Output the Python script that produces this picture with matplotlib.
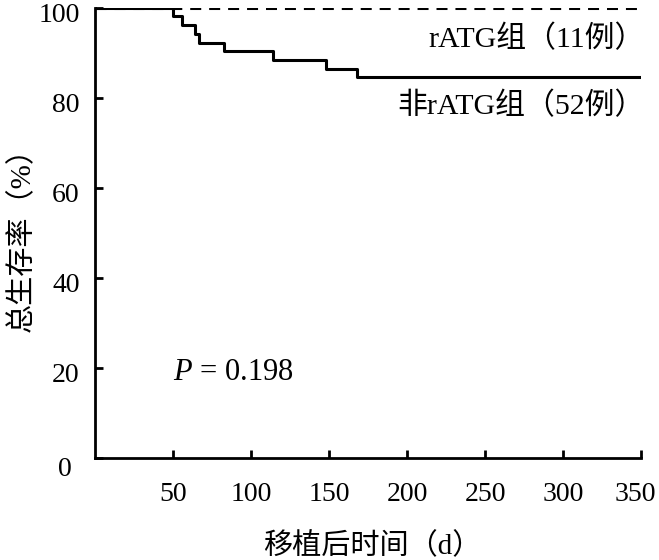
import matplotlib
matplotlib.use('Agg')
import matplotlib.pyplot as plt
import matplotlib.transforms as mtransforms

plt.rcParams['font.family'] = ['Liberation Serif', 'Noto Sans CJK SC']
plt.rcParams['mathtext.fontset'] = 'custom'
plt.rcParams['mathtext.it'] = 'Liberation Serif:italic'
plt.rcParams['mathtext.rm'] = 'Liberation Serif'

# rATG group (11 cases): no deaths
ratg_t = [0, 350]
ratg_s = [100, 100]

# non-rATG group (52 cases): event times (d) and survival after each step (%)
non_t = [0, 50, 56, 64, 67, 83, 114, 148, 168, 350]
non_s = [100, 98.1, 96.2, 94.2, 92.3, 90.4, 88.5, 86.5, 84.6, 84.6]

xticks = [50, 100, 150, 200, 250, 300, 350]
yticks = [0, 20, 40, 60, 80, 100]

fig = plt.figure(figsize=(6.59, 5.6), dpi=100)
ax = fig.add_axes([0.144, 0.182, 0.829, 0.804])

ax.step(non_t, non_s, where='post', color='black', lw=2.2)
ax.plot(ratg_t, ratg_s, color='black', lw=2.2, ls=(0, (3.6, 2.6)))

ax.set_xlim(0, 350)
ax.set_ylim(0, 100)
ax.spines['top'].set_visible(False)
ax.spines['right'].set_visible(False)
ax.spines['left'].set_linewidth(2)
ax.spines['bottom'].set_linewidth(2)
ax.spines['left'].set_zorder(5)

ax.set_xticks(xticks)
ax.set_yticks(yticks)
ax.set_yticklabels(['' if v == 0 else str(v) for v in yticks])
ax.tick_params(axis='both', direction='in', length=6, width=2, labelsize=20)
ax.tick_params(axis='x', pad=17)
ax.tick_params(axis='y', pad=11)

# small nudges so the labels sit where they do in the figure
down = mtransforms.ScaledTranslation(0, -3 / 72, fig.dpi_scale_trans)
for lab in ax.get_yticklabels():
    lab.set_transform(lab.get_transform() + down)
left = mtransforms.ScaledTranslation(-4 / 72, 0, fig.dpi_scale_trans)
last = ax.get_xticklabels()[-1]
last.set_transform(last.get_transform() + left)

ax.annotate('0', xy=(0, 0), xycoords='axes fraction', xytext=(-17, -8),
            textcoords='offset points', ha='right', va='center', fontsize=20)

ax.set_xlabel('移植后时间（d）', fontsize=21)
ax.set_ylabel('总生存率（%）', fontsize=21)
ax.xaxis.set_label_coords(0.507, -0.165)
ax.yaxis.set_label_coords(-0.108, 0.5)

ax.text(352, 93.2, 'rATG组（11例）', ha='right', va='center', fontsize=21.5)
ax.text(352, 78.2, '非rATG组（52例）', ha='right', va='center', fontsize=21.5)
ax.text(50, 19, '$P$ = 0.198', ha='left', va='center', fontsize=22)

fig.savefig('out.png', dpi=100)
